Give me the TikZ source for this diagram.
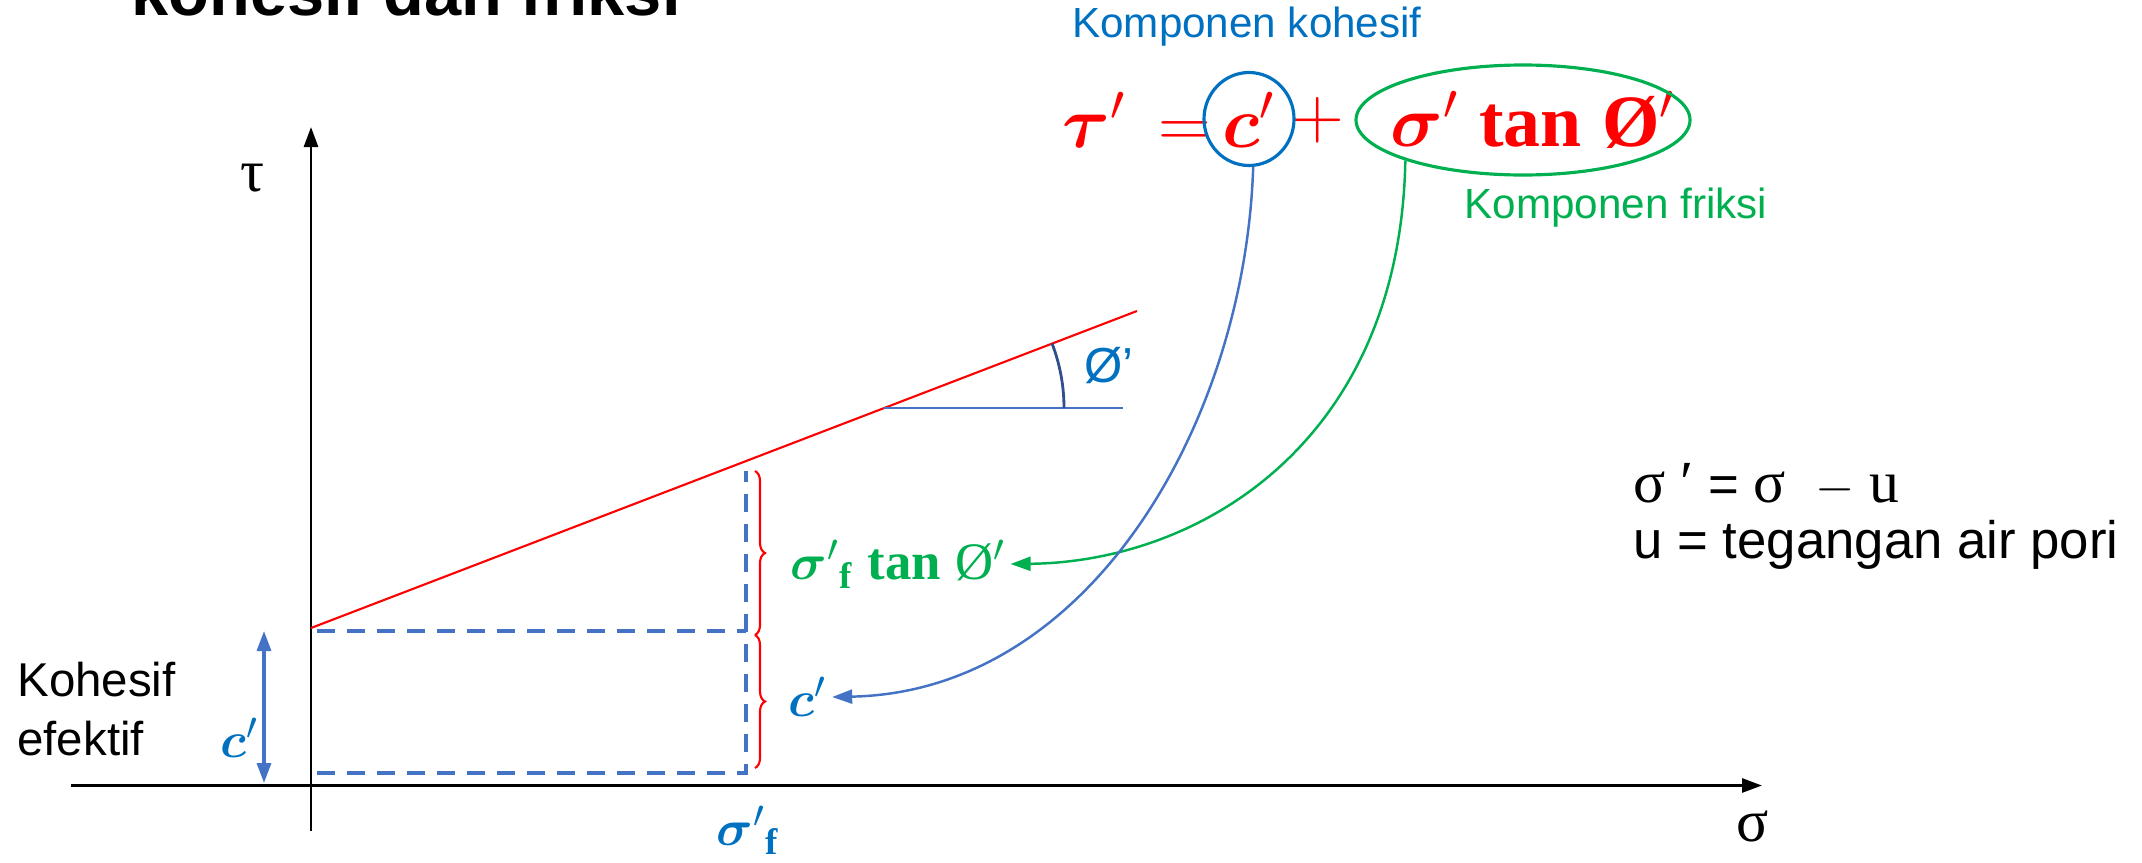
\documentclass[tikz,border=0pt]{standalone}
\usepackage{amsmath,bm}
\usepackage{fontspec}
\setmainfont{Liberation Sans}
\newfontfamily\serifrm{Liberation Serif}
\usetikzlibrary{arrows.meta,decorations.pathreplacing,shapes.geometric}
\definecolor{lineblue}{HTML}{4472C4}
\definecolor{textblue}{HTML}{0070C0}
\definecolor{fricgreen}{HTML}{00B050}
\definecolor{arcblue}{HTML}{2F4F8F}
\newcommand{\tantxt}{\text{\serifrm\bfseries tan}}
\newcommand{\fsub}{\text{\serifrm\bfseries f}}
\begin{document}
\begin{tikzpicture}[line width=0.8pt, >={Triangle[length=2mm,width=1.4mm]},
  guide/.style={draw=lineblue, line width=1.2pt, dash pattern=on 1.8mm off 1.2mm},
  eqn/.style={text=red, inner sep=0pt, font=\fontsize{21}{24}\selectfont},
  midlbl/.style={inner sep=1pt, font=\fontsize{15}{18}\selectfont}]
  \useasboundingbox (0,0) rectangle (21.42,8.62);
  % title, cut at the top
  \node[anchor=base west, inner sep=0pt, font=\fontsize{19}{22}\selectfont\bfseries] (title) at (1.30,8.47) {kohesif dan friksi};
  % axes
  \coordinate (ybot) at (3.11,0.315);
  \coordinate (ytop) at (3.11,7.35);
  \coordinate (xleft) at (0.71,0.765);
  \coordinate (xright) at (17.62,0.765);
  \draw[->] (ybot) -- (ytop);
  \draw[->] (xleft) -- (xright);
  \node[font=\fontsize{17}{20}\selectfont\serifrm] (taulbl) at (2.53,6.84) {τ};
  \node[font=\fontsize{17}{20}\selectfont\serifrm] (sigmalbl) at (17.53,0.36) {σ};
  % failure line and angle
  \coordinate (r0) at (3.11,2.34);
  \coordinate (r1) at (11.37,5.51);
  \coordinate (vtx) at (8.84,4.54);
  \coordinate (hend) at (11.23,4.54);
  \draw[red, line width=0.6pt] (r0) -- (r1);
  \draw[lineblue] (vtx) -- (hend);
  \draw[arcblue] (vtx) ++(0:1.8) arc[start angle=0, end angle=21, radius=1.8];
  \node[text=textblue, font=\fontsize{14}{17}\selectfont] (philbl) at (11.09,4.96) {Ø’};
  % dashed guides
  \coordinate (dtl) at (3.17,2.31);
  \coordinate (dtr) at (7.46,2.31);
  \coordinate (dbl) at (3.17,0.89);
  \coordinate (dbr) at (7.46,0.89);
  \coordinate (dtop) at (7.46,3.91);
  \draw[guide] (dtl) -- (dtr);
  \draw[guide] (dbl) -- (dbr) -- (dtop);
  % braces
  \draw[red, line width=0.6pt, decorate, decoration={brace, amplitude=1mm}] (7.55,3.91) -- (7.55,2.27);
  \draw[red, line width=0.6pt, decorate, decoration={brace, amplitude=1mm}] (7.55,2.27) -- (7.55,0.94);
  \node[midlbl, anchor=west, text=fricgreen] (friclbl) at (7.86,2.98) {$\bm{\sigma}'{}_{\fsub}\;\tantxt\;${\serifrm Ø}$'$};
  \node[midlbl, anchor=west, text=textblue] (cohlbl) at (7.84,1.65) {$\bm{c}'$};
  % effective cohesion on the left
  \node[anchor=west, align=left, inner sep=0pt, font=\fontsize{13.5}{16.8}\selectfont] (kohesif) at (0.16,1.53) {Kohesif\\efektif};
  \coordinate (ctop) at (2.64,2.31);
  \coordinate (cbot) at (2.64,0.79);
  \draw[<->, draw=lineblue, line width=0.9pt] (ctop) -- (cbot);
  \node[midlbl, text=textblue] (cleft) at (2.40,1.24) {$\bm{c}'$};
  \node[midlbl, text=textblue] (sigf) at (7.48,0.32) {$\bm{\sigma}'{}_{\fsub}$};
  % equation
  \node[eqn, anchor=east] (lhs) at (12.12,7.42) {$\bm{\tau}'\,=$};
  \node[eqn] (cterm) at (12.49,7.42) {$\bm{c}'$};
  \node[eqn] (plus) at (13.18,7.42) {$+$};
  \node[eqn] (sterm) at (15.33,7.42) {$\bm{\sigma}'\ \tantxt\ ${\serifrm\bfseries Ø}$'$};
  \node[ellipse, draw=textblue, line width=0.9pt, minimum width=0.9cm, minimum height=0.93cm, inner sep=0pt] (cring) at (12.49,7.43) {};
  \node[ellipse, draw=fricgreen, line width=0.9pt, minimum width=3.34cm, minimum height=1.1cm, inner sep=0pt] (sring) at (15.23,7.42) {};
  \node[text=textblue, font=\fontsize{12}{14}\selectfont] (kohlbl) at (12.47,8.35) {Komponen kohesif};
  \node[text=fricgreen, font=\fontsize{12}{14}\selectfont] (friklbl) at (16.16,6.54) {Komponen friksi};
  % component arrows
  \draw[->, draw=fricgreen, line width=0.7pt] (sring.199) .. controls (14.0,4.2) and (12.0,3.0) .. (friclbl.east);
  \draw[->, draw=lineblue, line width=0.7pt] (cring.275) .. controls (12.45,4.4) and (10.9,1.7) .. (cohlbl.east);
  % pore pressure note
  \node[anchor=base west, inner sep=0pt, font=\fontsize{15}{18}\selectfont] (effnote) at (16.32,3.60) {{\serifrm\fontsize{17}{20}\selectfont σ ′} = {\serifrm\fontsize{17}{20}\selectfont σ}\ \ $-$ {\serifrm\fontsize{17}{20}\selectfont u}};
  \node[anchor=base west, inner sep=0pt, font=\fontsize{15}{18}\selectfont] (porenote) at (16.32,3.04) {u = tegangan air pori};
\end{tikzpicture}
\end{document}
